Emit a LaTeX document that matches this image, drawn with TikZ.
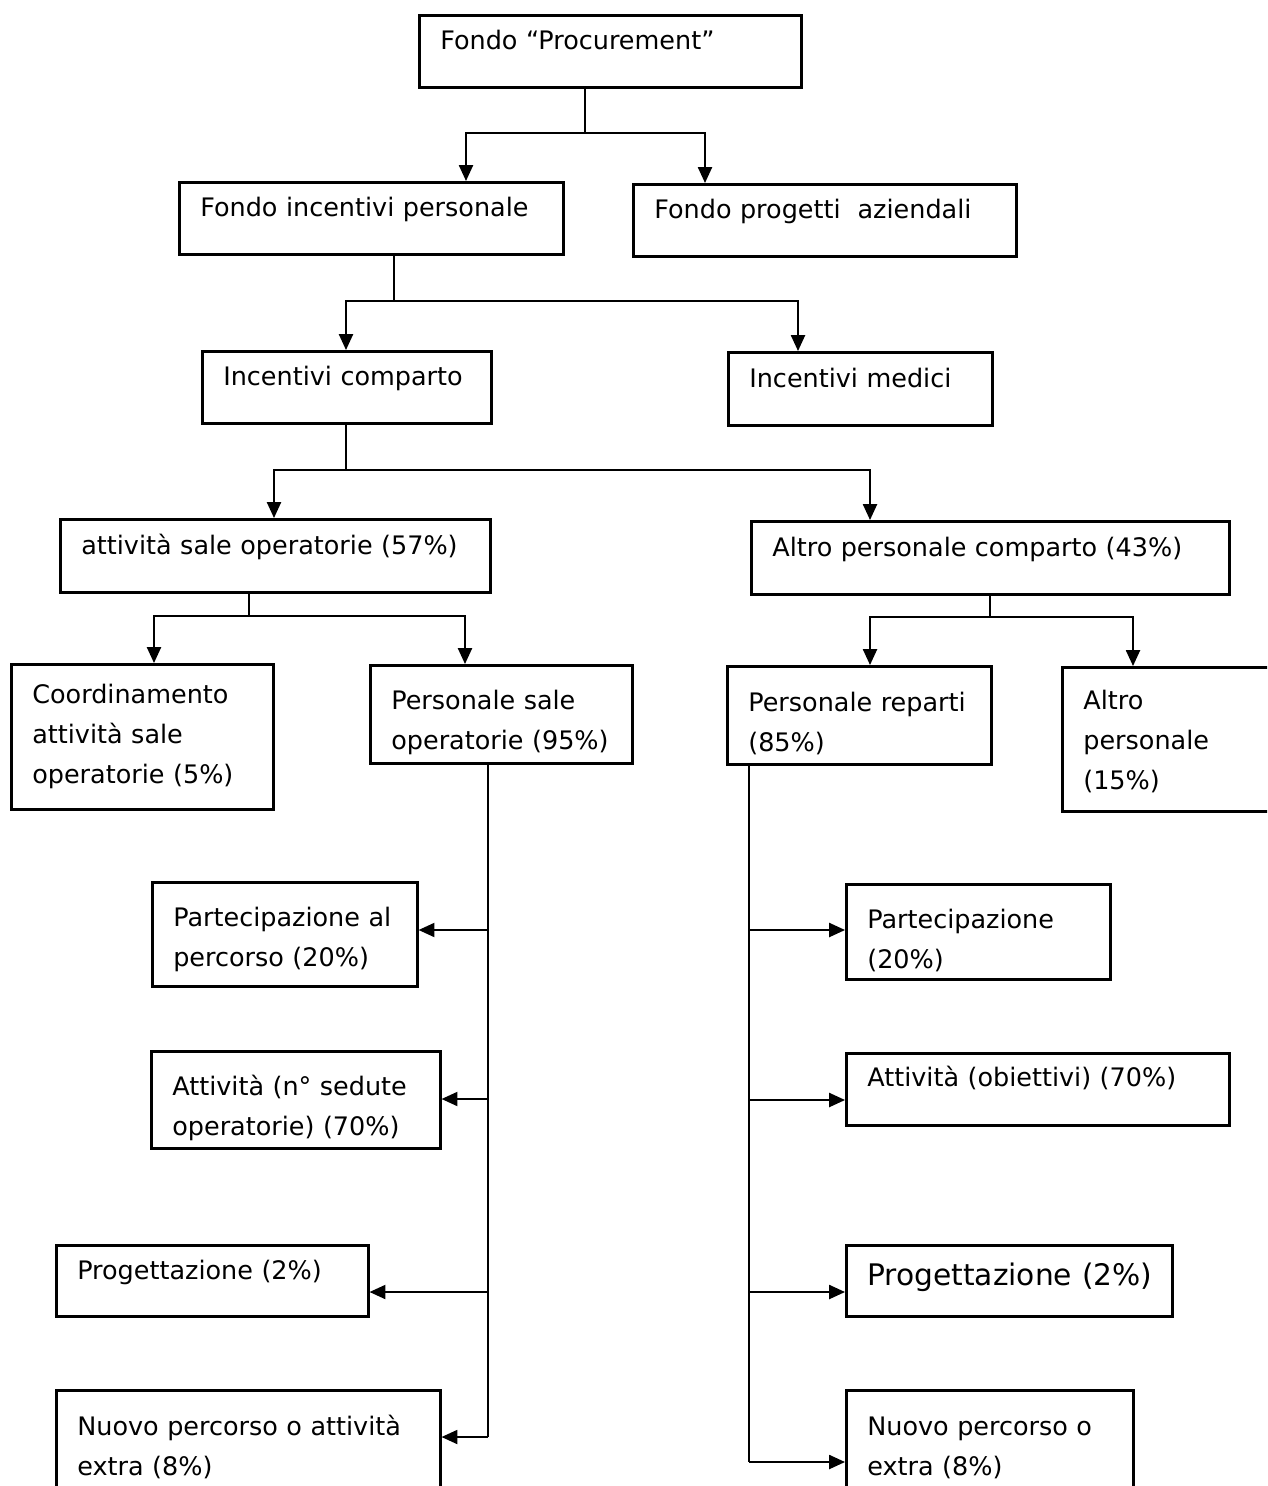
\documentclass[tikz,border=0pt]{standalone}
\usepackage{fontspec}
\setmainfont{DejaVu Sans}
\usetikzlibrary{arrows.meta}

\tikzset{
  box/.style={draw, line width=1.5pt, anchor=north west, inner xsep=0.42cm,
    inner ysep=1pt, align=left, font=\fontsize{14.5}{22.8}\selectfont},
  oneline/.style={text depth=13pt},
  twoline/.style={text height=#1},
  twoline/.default=20pt,
  conn/.style={line width=1pt},
  arr/.style={conn, -{Triangle[length=9pt,width=8pt]}}
}

\begin{document}
\begin{tikzpicture}[x=0.02cm, y=-0.02cm]

      \useasboundingbox (0,0) rectangle (1267,1486);
      \clip (0,0) rectangle (1267,1486);

      % top
      \node[box, oneline, text width=6.8cm, minimum height=1.44cm] (root) at (418,14) {Fondo “Procurement”};
      \node[box, oneline, text width=6.84cm, minimum height=1.44cm] (fip) at (178,181) {Fondo incentivi personale};
      \node[box, oneline, text width=6.82cm, minimum height=1.44cm] (fpa) at (632,183) {Fondo progetti~~aziendali};
      \path (585,133) coordinate (b1) (466,133) coordinate (b1l) (705,133) coordinate (b1r);
      \draw[conn] (root.south -| b1) -- (b1);
      \draw[arr] (b1) -- (b1l) -- (b1l |- fip.north);
      \draw[arr] (b1) -- (b1r) -- (b1r |- fpa.north);

      % incentivi
      \node[box, oneline, text width=4.94cm, minimum height=1.44cm] (ic) at (201,350) {Incentivi comparto};
      \node[box, oneline, text width=4.44cm, minimum height=1.46cm] (im) at (727,351) {Incentivi medici};
      \path (394,301) coordinate (b2) (346,301) coordinate (b2l) (798,301) coordinate (b2r);
      \draw[conn] (fip.south -| b2) -- (b2);
      \draw[arr] (b2) -- (b2l) -- (b2l |- ic.north);
      \draw[arr] (b2) -- (b2r) -- (b2r |- im.north);

      % comparto
      \node[box, oneline, text width=7.76cm, minimum height=1.46cm] (asa) at (59,518) {attività sale operatorie (57\%)};
      \node[box, oneline, text width=8.72cm, minimum height=1.46cm] (apc) at (750,520) {Altro personale comparto (43\%)};
      \path (346,470) coordinate (b3) (274,470) coordinate (b3l) (870,470) coordinate (b3r);
      \draw[conn] (ic.south -| b3) -- (b3);
      \draw[arr] (b3) -- (b3l) -- (b3l |- asa.north);
      \draw[arr] (b3) -- (b3r) -- (b3r |- apc.north);

      % sale operatorie
      \node[box, text width=4.4cm, minimum height=2.9cm] (coord) at (10,663) {Coordinamento\\attività sale\\operatorie (5\%)};
      \node[box, twoline, text width=4.4cm, minimum height=1.96cm] (pso) at (369,664) {Personale sale\\operatorie (95\%)};
      \path (249,616) coordinate (b4) (154,616) coordinate (b4l) (465,616) coordinate (b4r);
      \draw[conn] (asa.south -| b4) -- (b4);
      \draw[arr] (b4) -- (b4l) -- (b4l |- coord.north);
      \draw[arr] (b4) -- (b4r) -- (b4r |- pso.north);

      % altro personale
      \node[box, twoline, text width=4.44cm, minimum height=1.96cm] (pr) at (726,665) {Personale reparti\\(85\%)};
      \node[box, twoline=14pt, text width=3.94cm, minimum height=2.88cm] (ap) at (1061,666) {Altro\\personale\\(15\%)};
      \path (990,617) coordinate (b5) (870,617) coordinate (b5l) (1133,617) coordinate (b5r);
      \draw[conn] (apc.south -| b5) -- (b5);
      \draw[arr] (b5) -- (b5l) -- (b5l |- pr.north);
      \draw[arr] (b5) -- (b5r) -- (b5r |- ap.north);

      % left column
      \node[box, twoline=17pt, text width=4.46cm, minimum height=2.08cm] (ppl) at (151,881) {Partecipazione~al\\percorso (20\%)};
      \node[box, twoline=21pt, text width=4.94cm, minimum height=1.94cm] (attl) at (150,1050) {Attività (n° sedute\\operatorie) (70\%)};
      \node[box, oneline, text width=5.4cm, minimum height=1.42cm] (progl) at (55,1244) {Progettazione (2\%)};
      \node[box, twoline=7pt, text width=6.84cm, minimum height=2.42cm] (npl) at (55,1389) {Nuovo percorso o attività\\extra (8\%)};
      \path (488,1437) coordinate (lend);
      \draw[conn] (pso.south -| lend) -- (lend);
      \foreach \n/\y in {ppl/930, attl/1099, progl/1292, npl/1437}
      { \path (488,\y) coordinate (l\n); \draw[arr] (l\n) -- (l\n -| \n.east); }

      % right column
      \node[box, twoline=21pt, text width=4.44cm, minimum height=1.9cm] (ppr) at (845,883) {Partecipazione\\(20\%)};
      \node[box, oneline, text width=6.82cm, minimum height=1.44cm, text depth=15pt] (attr) at (845,1052) {Attività (obiettivi) (70\%)};
      \node[box, text width=5.68cm, minimum height=1.42cm, font=\fontsize{16.9}{22.8}\selectfont, text depth=8pt] (progr) at (845,1244) {Progettazione~(2\%)};
      \node[box, twoline=7pt, text width=4.9cm, minimum height=2.42cm] (npr) at (845,1389) {Nuovo percorso o\\extra (8\%)};
      \path (749,1462) coordinate (rend);
      \draw[conn] (pr.south -| rend) -- (rend);
      \foreach \n/\y in {ppr/930, attr/1100, progr/1292, npr/1462}
      { \path (749,\y) coordinate (r\n); \draw[arr] (r\n) -- (r\n -| \n.west); }
    \end{tikzpicture}
\end{document}
